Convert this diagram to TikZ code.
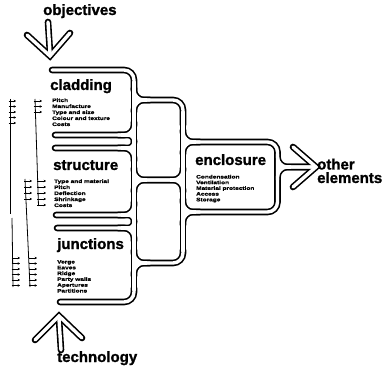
\documentclass[tikz,border=0pt]{standalone}
\usepackage{fontspec}
\setmainfont{Liberation Sans}
\newfontfamily\itemfont[FakeStretch=1.3,FakeBold=1.2]{Liberation Sans}
\newfontfamily\titlefont[FakeBold=1.3]{Liberation Sans}
\usetikzlibrary{arrows.meta}

\newcommand\tubepaths{%
  % left vertical (V1)
  \draw (134,82) -- (134,290);
  \draw (52,70) -- (134,70) -- (134,90);
  \draw (134,88) -- (134,100) -- (183,100) -- (183,125);
  \draw (134,112) -- (134,100) -- (150,100);
  \draw (55,135) -- (134,135) -- (134,122);
  \draw[rounded corners=6pt] (118,135) -- (134,135) -- (134,141.5);
  \draw (55,148) -- (134,148) -- (134,161);
  \draw[rounded corners=6pt] (118,148) -- (134,148) -- (134,141.5);
  \draw (134,168) -- (134,180) -- (183,180) -- (183,192);
  \draw (134,192) -- (134,180) -- (183,180) -- (183,168);
  \draw (56,215) -- (134,215) -- (134,202);
  \draw[rounded corners=6pt] (118,215) -- (134,215) -- (134,221.5);
  \draw (57,228) -- (134,228) -- (134,241);
  \draw[rounded corners=6pt] (118,228) -- (134,228) -- (134,221.5);
  \draw (134,250) -- (134,263) -- (183,263) -- (183,250);
  \draw (134,276) -- (134,263) -- (150,263);
  \draw (60,302) -- (134,302) -- (134,288);
  % right vertical (V2) and enclosure
  \draw (183,112) -- (183,251);
  \draw (183,130) -- (183,142) -- (277.5,142) -- (277.5,212) -- (183,212) -- (183,199);
  \draw (183,154) -- (183,142) -- (200,142);
  \draw (200,212) -- (183,212) -- (183,225);
  \draw (277.5,154) -- (277.5,167) -- (314,167);
  \draw (277.5,180) -- (277.5,167) -- (314,167);
  % hollow arrows
  \draw[sharp corners] (293,147) -- (316,167) -- (293,187);
  \draw (48,22) -- (50,53);
  \draw[sharp corners] (27,35) -- (50,56) -- (70,33);
  \draw (61,350) -- (59,319);
  \draw[sharp corners] (35,340) -- (59,316) -- (82,338);
}
% white-only stubs that clear the inside of each T junction
\newcommand\junctionstubs{%
  \draw (134,100) -- (147,100);
  \draw (134,180) -- (147,180);
  \draw (134,263) -- (147,263);
  \draw (134,135) -- (121,135);
  \draw (134,148) -- (121,148);
  \draw (134,215) -- (121,215);
  \draw (134,228) -- (121,228);
  \draw (183,180) -- (170,180);
  \draw (183,142) -- (196,142);
  \draw (183,212) -- (196,212);
  \draw (277.5,167) -- (291,167);
}

\begin{document}
\begin{tikzpicture}[x=1pt,y=-1pt,
  title/.style={font=\titlefont\bfseries\fontsize{15}{15}\selectfont, inner sep=0pt, anchor=base west},
  item/.style={font=\itemfont\bfseries\fontsize{5}{6}\selectfont, inner sep=0pt, anchor=base west},
  thinline/.style={line width=0.8pt},
  stub/.style={line width=0.7pt, -{Stealth[length=2.4pt,width=2.6pt]}}]
\useasboundingbox (0,0) rectangle (388,374);
\fill[white] (0,0) rectangle (388,374);

\begin{scope}[line width=6.6pt, draw=black, line cap=round, rounded corners=10pt]
  \tubepaths
\end{scope}
\begin{scope}[line width=3.4pt, draw=white, line cap=round, rounded corners=10pt]
  \tubepaths
  \begin{scope}[line cap=butt]
    \junctionstubs
  \end{scope}
\end{scope}

% titles
\node[title] (obj) at (43,15) {objectives};
\node[title] (tech) at (57,362) {technology};
\node[title] (clad) at (50,90) {cladding};
\node[title] (struct) at (53,170) {structure};
\node[title] (junc) at (57,249) {junctions};
\node[title] (encl) at (195,165) {enclosure};
\node[title] (oth) at (317,169.5) {other};
\node[title] (elem) at (317,183) {elements};

% items
\foreach \t [count=\i from 0] in {Pitch,Manufacture,Type and size,Colour and texture,Costs}
  \node[item] (cl\i) at (52,102+6*\i) {\t};
\foreach \t [count=\i from 0] in {Type and material,Pitch,Deflection,Shrinkage,Costs}
  \node[item] (st\i) at (54,183+6*\i) {\t};
\foreach \t [count=\i from 0] in {Verge,Eaves,Ridge,Party walls,Apertures,Partitions}
  \node[item] (ju\i) at (57,263.5+5.8*\i) {\t};
\foreach \t [count=\i from 0] in {Condensation,Ventilation,Material protection,Access,Storage}
  \node[item] (en\i) at (196,178.5+5.7*\i) {\t};

% left reference columns
\coordinate (a1) at (10,99);  \coordinate (a2) at (10,214);
\coordinate (a3) at (12,218); \coordinate (a4) at (13,287);
\draw[thinline] (a1) -- (a2);
\draw[thinline] (a3) -- (a4);
\foreach \y in {101,106.5,112,117.5,123} \draw[stub] (8.5,\y) -- (16,\y);
\foreach \y in {258,263.5,269,274.5,280,285.5} \draw[stub] (11.5,\y) -- (20,\y);

\coordinate (b1) at (35,99); \coordinate (b2) at (38.5,206);
\draw[thinline] (b1) -- (b2);
\foreach \y in {101,106.5,112} \draw[stub] (33.5,\y) -- (42,\y);
\foreach \y in {181,187,193,199,205} \draw[stub] (37,\y) -- (46,\y);

\coordinate (c1) at (25,179); \coordinate (c2) at (30,287);
\draw[thinline] (c1) -- (c2);
\foreach \y in {181,187,193,199} \draw[stub] (24,\y) -- (32,\y);
\foreach \y in {258,263.5,269,274.5,280,285.5} \draw[stub] (28.5,\y) -- (37,\y);
\end{tikzpicture}
\end{document}
